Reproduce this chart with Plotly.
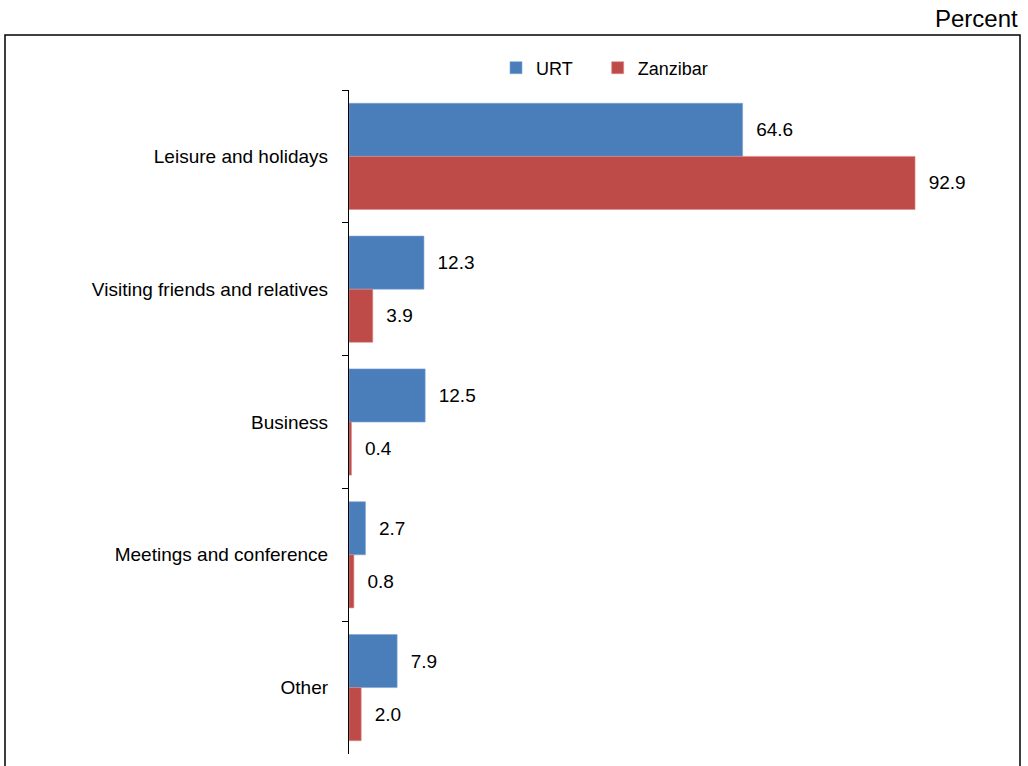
import plotly.graph_objects as go

categories = ["Leisure and holidays", "Visiting friends and relatives", "Business",
              "Meetings and conference", "Other"]
urt = [64.6, 12.3, 12.5, 2.7, 7.9]
zanzibar = [92.9, 3.9, 0.4, 0.8, 2.0]

W, H = 1028, 766
FONT = "Liberation Sans, Arial, Helvetica, sans-serif"

fig = go.Figure()
fig.add_trace(go.Bar(
    name="URT\u00a0\u00a0\u00a0\u00a0", y=categories, x=urt, orientation="h",
    marker=dict(color="#4A7EBB", line=dict(color="#7FA3D3", width=0.6)),
    text=urt, texttemplate="\u00a0\u00a0%{x:.1f}", textposition="outside",
    textfont=dict(size=19, color="black", family=FONT), cliponaxis=False,
))
fig.add_trace(go.Bar(
    name="Zanzibar", y=categories, x=zanzibar, orientation="h",
    marker=dict(color="#BE4B48", line=dict(color="#D98A88", width=0.6)),
    text=zanzibar, texttemplate="\u00a0\u00a0%{x:.1f}", textposition="outside",
    textfont=dict(size=19, color="black", family=FONT), cliponaxis=False,
))

fig.update_layout(
    width=W, height=H,
    margin=dict(l=0, r=0, t=0, b=0),
    paper_bgcolor="white", plot_bgcolor="white",
    font=dict(family=FONT, size=18, color="black"),
    barmode="group", bargap=0.2, bargroupgap=0,
    showlegend=True,
    legend=dict(orientation="h", x=496 / W, xanchor="left", y=1 - 68 / H, yanchor="middle",
                font=dict(size=18), traceorder="normal", bgcolor="rgba(0,0,0,0)"),
    xaxis=dict(domain=[349 / W, 1000 / W], range=[0, 106.84], showticklabels=False,
               showgrid=False, zeroline=False, showline=False, ticks=""),
    yaxis=dict(domain=[1 - 754 / H, 1 - 90 / H], autorange="reversed",
               showline=True, linecolor="black", linewidth=1.2,
               ticks="outside", ticklen=6, tickcolor="black", tickwidth=1.2,
               tickson="boundaries", showgrid=False, ticklabelstandoff=16,
               tickfont=dict(size=19)),
    shapes=[dict(type="rect", xref="paper", yref="paper",
                 x0=5 / W, x1=1020 / W, y0=-0.05, y1=1 - 35 / H,
                 line=dict(color="black", width=1.5), fillcolor="rgba(0,0,0,0)")],
    annotations=[dict(text="Percent", xref="paper", yref="paper", x=1020 / W, y=1 - 18 / H,
                      xanchor="right", yanchor="middle", showarrow=False,
                      font=dict(size=24, color="black", family=FONT))],
)

fig.write_html("out.html", config={"displayModeBar": False},
               post_script="document.body.style.margin='0';document.body.style.overflow='hidden';")
